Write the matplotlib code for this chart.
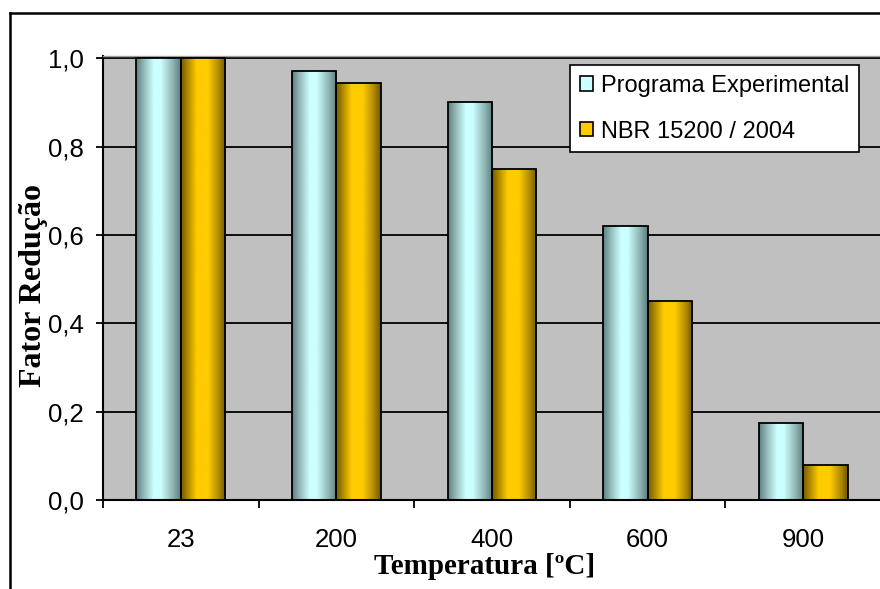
import numpy as np
import matplotlib
matplotlib.use("Agg")
import matplotlib.pyplot as plt
from matplotlib.colors import LinearSegmentedColormap
from matplotlib.patches import Patch
from matplotlib.lines import Line2D

# data
temperaturas = ["23", "200", "400", "600", "900"]
programa_exp = [1.0, 0.97, 0.90, 0.62, 0.175]
nbr_15200 = [1.0, 0.945, 0.75, 0.45, 0.08]
y_ticks = [0.0, 0.2, 0.4, 0.6, 0.8, 1.0]
y_ticklabels = ["0,0", "0,2", "0,4", "0,6", "0,8", "1,0"]

sans = "Liberation Sans"
serif = "Liberation Serif"

fig = plt.figure(figsize=(8.8, 5.89), dpi=100)
ax = fig.add_axes([103/880, 89/589, 778/880, 444/589])
ax.set_facecolor("#C0C0C0")

# cylinder-like shading for the bars
cmap_cyan = LinearSegmentedColormap.from_list("cyan", [
    (0.0, "#5F7F7F"), (0.2, "#9CC2C2"), (0.4, "#CCFFFF"),
    (0.55, "#CCFFFF"), (0.8, "#94BABA"), (1.0, "#5C7C7C")])
cmap_gold = LinearSegmentedColormap.from_list("gold", [
    (0.0, "#735900"), (0.18, "#BB9300"), (0.35, "#FFCC00"),
    (0.6, "#FFCC00"), (0.85, "#AE8800"), (1.0, "#6E5500")])
grad = np.linspace(0, 1, 256)[np.newaxis, :]

x = np.arange(len(temperaturas))
w = 0.285
b1 = ax.bar(x - w/2, programa_exp, w, facecolor="none", edgecolor="black",
            linewidth=1.3, zorder=3)
b2 = ax.bar(x + w/2, nbr_15200, w, facecolor="none", edgecolor="black",
            linewidth=1.3, zorder=3)

for bars, cm in [(b1, cmap_cyan), (b2, cmap_gold)]:
    for bar in bars:
        x0 = bar.get_x()
        im = ax.imshow(grad, cmap=cm, aspect="auto", zorder=2,
                       extent=[x0, x0 + bar.get_width(), 0, bar.get_height()],
                       interpolation="bilinear")
        im.set_clip_path(bar)

ax.set_xlim(-0.5, len(temperaturas) - 0.5)
ax.set_ylim(0, 1.005)

# grid
ax.set_axisbelow(True)
ax.yaxis.grid(True, color="black", linewidth=1.3)
ax.xaxis.grid(False)

# spines
for s in ["left", "bottom"]:
    ax.spines[s].set_linewidth(1.5)
    ax.spines[s].set_color("black")
ax.spines["right"].set_visible(False)
ax.spines["top"].set_color("#A0A0A0")
ax.spines["top"].set_linewidth(1.0)

ax.set_yticks(y_ticks)
ax.set_yticklabels(y_ticklabels, fontfamily=sans, fontsize=18.5)
ax.tick_params(axis="y", direction="out", length=5, width=1.3, pad=9)

ax.set_xticks(x)
ax.set_xticklabels(temperaturas, fontfamily=sans, fontsize=18.5)
ax.set_xticks(np.arange(len(temperaturas) + 1) - 0.5, minor=True)
ax.tick_params(axis="x", which="major", length=0, pad=20)
ax.tick_params(axis="x", which="minor", direction="out", length=6, width=1.3)

ax.set_xlabel("Temperatura [ºC]", fontfamily=serif, fontweight="bold", fontsize=21)
ax.xaxis.set_label_coords(0.49, -0.119)
ax.set_ylabel("Fator Redução", fontfamily=serif, fontweight="bold", fontsize=23,
              va="center")
ax.yaxis.set_label_coords(-0.089, 0.484)

handles = [Patch(facecolor="#CCFFFF", edgecolor="black", linewidth=1.2),
           Patch(facecolor="#FFCC00", edgecolor="black", linewidth=1.2)]
leg = ax.legend(handles, ["Programa Experimental", "NBR 15200 / 2004"],
                loc="upper left", bbox_to_anchor=(570/880, 1 - 65/589),
                bbox_transform=fig.transFigure, borderaxespad=0,
                prop={"family": sans, "size": 17}, frameon=True, fancybox=False,
                shadow=False, handlelength=0.55, handleheight=0.55,
                handletextpad=0.35, labelspacing=1.0, borderpad=0.42)
leg.get_frame().set_edgecolor("black")
leg.get_frame().set_linewidth(1.2)
leg.get_frame().set_facecolor("white")
leg.get_frame().set_alpha(1)
leg.set_zorder(5)

# outer chart border (cropped on right and bottom in the reference)
fig.add_artist(Line2D([10/880, 10/880], [0, 1 - 13/589], color="black",
                      linewidth=1.8, transform=fig.transFigure))
fig.add_artist(Line2D([10/880, 1], [1 - 13/589, 1 - 13/589], color="black",
                      linewidth=1.8, transform=fig.transFigure))

fig.savefig("out.png", dpi=100)
